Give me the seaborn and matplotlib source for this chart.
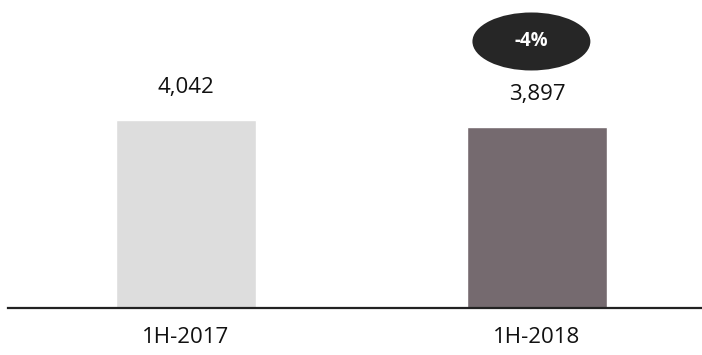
import matplotlib
matplotlib.use("Agg")
import matplotlib.pyplot as plt
from matplotlib.patches import Ellipse
import seaborn as sns
import pandas as pd

periods = ["1H-2017", "1H-2018"]
values = [4042, 3897]
bar_colors = ["#DDDDDD", "#756A6F"]
change_label = "-4%"

sns.set_style("white")
plt.rcParams["font.family"] = ["Open Sans", "DejaVu Sans"]

df = pd.DataFrame({"period": periods, "value": values})

fig = plt.figure(figsize=(7.02, 3.55), dpi=100)
ax = fig.add_axes([0.0114, 0.1324, 0.9886, 0.8676])

sns.barplot(data=df, x="period", y="value", hue="period",
            palette=bar_colors, width=0.4, legend=False, ax=ax,
            saturation=1)

ax.set_xlim(-0.507, 1.47)
ax.set_ylim(0, 6622)

# value labels
for i, v in enumerate(values):
    ax.annotate(f"{v:,}", (i, v), xytext=(0, 16), textcoords="offset points",
                ha="center", va="bottom", fontsize=16, color="#111111")

# change bubble over the second bar
ell = Ellipse((0.984, 5730), width=0.336, height=58 * 6622 / 308,
              facecolor="#262626", edgecolor="none", clip_on=False)
ax.add_patch(ell)
ax.text(0.984, 5750, change_label, ha="center", va="center",
        fontsize=13.5, fontweight="bold", color="white")

for s in ["top", "right", "left"]:
    ax.spines[s].set_visible(False)
ax.spines["bottom"].set_linewidth(1.6)
ax.spines["bottom"].set_color("#222222")
ax.set_yticks([])
ax.set_xlabel("")
ax.set_ylabel("")
ax.tick_params(axis="x", length=0, pad=14, labelsize=16, labelcolor="#111111")

fig.savefig("out.png", dpi=100)
